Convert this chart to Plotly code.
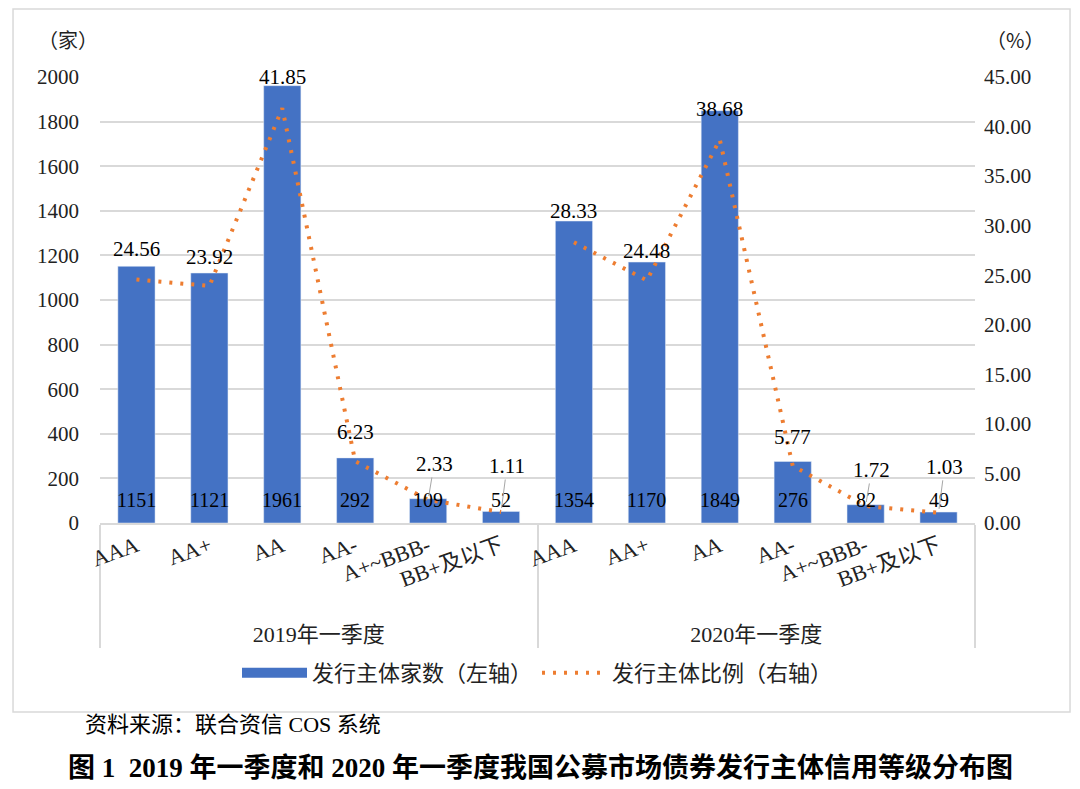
import plotly.graph_objects as go

groups = ["2019年一季度", "2020年一季度"]
ratings = ["AAA", "AA+", "AA", "AA-", "A+~BBB-", "BB+及以下"]
counts_2019 = [1151, 1121, 1961, 292, 109, 52]
counts_2020 = [1354, 1170, 1849, 276, 82, 49]
ratio_2019 = [24.56, 23.92, 41.85, 6.23, 2.33, 1.11]
ratio_2020 = [28.33, 24.48, 38.68, 5.77, 1.72, 1.03]

BLUE = "#4472C4"
ORANGE = "#ED7D31"
GRID = "#D9D9D9"
SERIF = "Liberation Serif, Noto Sans CJK SC"
CJK = "Noto Sans CJK SC"

x_group = [groups[0]] * len(ratings) + [groups[1]] * len(ratings)
x_cat = ratings + ratings
counts = counts_2019 + counts_2020
ratios = ratio_2019 + ratio_2020

fig = go.Figure()
fig.add_trace(go.Bar(
    x=[x_group, x_cat], y=counts, name="发行主体家数（左轴）",
    marker_color=BLUE, width=0.51, yaxis="y", showlegend=False,
    legendgroup="bars",
))
# legend entry drawn as a wide filled bar sample (like the reference legend)
fig.add_trace(go.Scatter(
    x=[None], y=[None], mode="lines", name="发行主体家数（左轴）",
    line=dict(color=BLUE, width=12), legendgroup="bars", yaxis="y",
))
for gi, (g, r) in enumerate(zip(groups, [ratio_2019, ratio_2020])):
    fig.add_trace(go.Scatter(
        x=[[g] * len(ratings), ratings], y=r, yaxis="y2", mode="lines",
        line=dict(color=ORANGE, width=4, dash="3px,8px"),
        name="发行主体比例（右轴）", showlegend=(gi == 0),
    ))

annotations = []
# bar value labels (at base, inside bars)
for i, v in enumerate(counts):
    annotations.append(dict(x=i, y=0, xref="x", yref="y", text=str(v),
                            showarrow=False, yanchor="bottom", yshift=10,
                            font=dict(family=SERIF, size=20, color="#000")))
# ratio labels
leader = [False, False, False, False, True, True]
offsets = [-31, -29, -31, -29, -36, -46]
for i, v in enumerate(ratios):
    k = i % len(ratings)
    annotations.append(dict(
        x=i, y=v, xref="x", yref="y2", text=f"{v:.2f}",
        showarrow=True, arrowhead=0, arrowwidth=1,
        arrowcolor="#A6A6A6" if leader[k] else "rgba(0,0,0,0)",
        ax=6 if leader[k] else 0, ay=offsets[k], standoff=4,
        font=dict(family=SERIF, size=21, color="#000")))

annotations += [
    dict(x=-0.0366, y=1.083, xref="paper", yref="paper", text="（家）", showarrow=False,
         xanchor="center", yanchor="middle", font=dict(family=CJK, size=20, color="#222")),
    dict(x=1.0457, y=1.083, xref="paper", yref="paper", text="（%）", showarrow=False,
         xanchor="center", yanchor="middle", font=dict(family=CJK, size=20, color="#222")),
    dict(x=-0.0194, y=-0.4507, xref="paper", yref="paper", text="资料来源：联合资信 COS 系统",
         showarrow=False, xanchor="left", yanchor="middle",
         font=dict(family=SERIF, size=22, color="#000")),
    dict(x=0.503, y=-0.549, xref="paper", yref="paper",
         text="<b>图 1  2019 年一季度和 2020 年一季度我国公募市场债券发行主体信用等级分布图</b>",
         showarrow=False, xanchor="center", yanchor="middle",
         font=dict(family=SERIF, size=27, color="#000")),
]

# page body has an 8px margin, so the figure is 8px smaller than the window
fig.update_layout(
    width=1072, height=781,
    margin=dict(l=92, r=105, t=69, b=266),
    paper_bgcolor="white", plot_bgcolor="white",
    bargap=0.49,
    xaxis=dict(type="multicategory", tickangle=-20, showline=True, linecolor=GRID,
               linewidth=1.5, showdividers=True, dividercolor=GRID, dividerwidth=1.5,
               tickfont=dict(family=SERIF, size=22, color="#222"), ticks="",
               automargin=False),
    yaxis=dict(range=[0, 2000], dtick=200, showgrid=True, gridcolor=GRID, gridwidth=1.5,
               zeroline=False, tickfont=dict(family=SERIF, size=21, color="#222"),
               ticklabelstandoff=20, automargin=False),
    yaxis2=dict(range=[0, 45], dtick=5, tickformat=".2f", overlaying="y", side="right",
                showgrid=False, zeroline=False, automargin=False,
                tickfont=dict(family=SERIF, size=21, color="#222"), ticklabelstandoff=8),
    legend=dict(orientation="h", x=0.5, xanchor="center", y=-0.336, yanchor="middle",
                font=dict(family=CJK, size=22, color="#222"), traceorder="normal",
                itemwidth=65),
    annotations=annotations,
    shapes=[dict(type="rect", xref="paper", yref="paper", x0=-0.0994, x1=1.1086,
                 y0=-0.4238, y1=1.1525, line=dict(color=GRID, width=1.5))],
)

fig.write_html("out.html")
